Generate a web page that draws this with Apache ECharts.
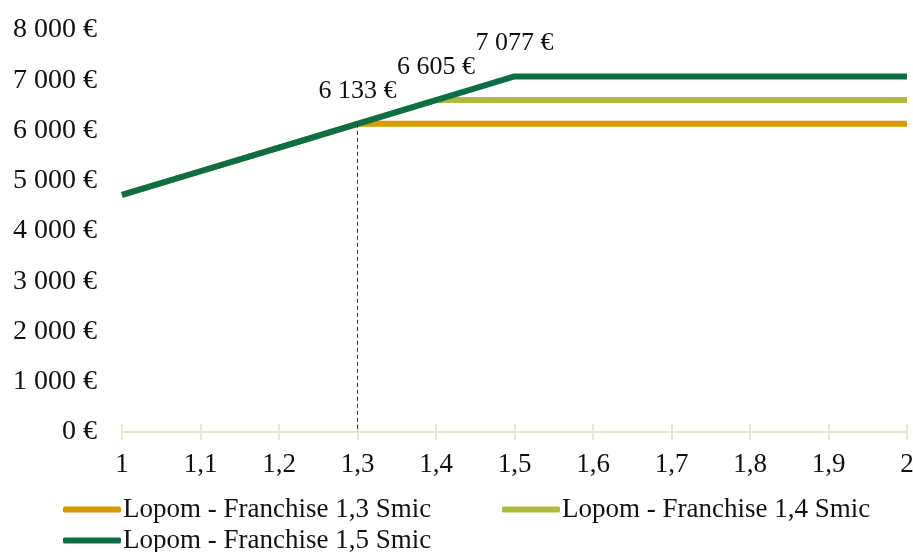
<!DOCTYPE html>
<html>
<head>
<meta charset="utf-8">
<script src="https://cdn.jsdelivr.net/npm/echarts@6/dist/echarts.min.js"></script>
<style>
  html, body { margin: 0; padding: 0; background: #fff; }
  #chart { width: 913px; height: 552px; }
</style>
</head>
<body>
<div id="chart"></div>
<script>
// données
var categories = ['1', '1,1', '1,2', '1,3', '1,4', '1,5', '1,6', '1,7', '1,8', '1,9', '2'];
var franchise13 = [4717, 5189, 5661, 6133, 6133, 6133, 6133, 6133, 6133, 6133, 6133];
var franchise14 = [4717, 5189, 5661, 6133, 6605, 6605, 6605, 6605, 6605, 6605, 6605];
var franchise15 = [4717, 5189, 5661, 6133, 6605, 7077, 7077, 7077, 7077, 7077, 7077];
var seriesNames = ['Lopom - Franchise 1,3 Smic', 'Lopom - Franchise 1,4 Smic', 'Lopom - Franchise 1,5 Smic'];
var labelIndex = [3, 4, 5]; // point où le plafond commence

var font = 'Liberation Serif';
var colors = ['#D89B00', '#AFBB3A', '#0D6E46'];

function euro(v) {
    return String(Math.round(v)).replace(/\B(?=(\d{3})+(?!\d))/g, ' ') + ' €';
}

var allData = [franchise13, franchise14, franchise15];
var series = [];
for (var i = 0; i < 3; i++) {
    var idx = labelIndex[i];
    series.push({
        name: seriesNames[i],
        type: 'line',
        data: allData[i],
        symbol: 'none',
        lineStyle: { width: 6, color: colors[i] },
        itemStyle: { color: colors[i] },
        z: 2 + i,
        markPoint: {
            silent: true,
            symbol: 'circle', symbolSize: 0,
            label: {
                show: true, position: 'top', distance: 20,
                formatter: function (p) { return euro(p.value); },
                fontFamily: font, fontSize: 26, color: '#111'
            },
            data: [{ coord: [categories[idx], allData[i][idx]], value: allData[i][idx] }]
        }
    });
}
// trait pointillé vertical à 1,3
series[0].markLine = {
    silent: true,
    symbol: ['none', 'none'],
    label: { show: false },
    lineStyle: { type: [4, 3], color: '#333', width: 1 },
    data: [[{ coord: ['1,3', franchise13[3]] }, { coord: ['1,3', 0] }]]
};

function legendAt(name, left, top) {
    return {
        data: [name], left: left, top: top, orient: 'horizontal',
        icon: 'roundRect', itemWidth: 58, itemHeight: 6, itemGap: 0,
        textStyle: { fontFamily: font, fontSize: 27, color: '#111', padding: [0, 0, 0, -3] },
        selectedMode: false
    };
}

var myChart = echarts.init(document.getElementById('chart'));
var option = {
    animation: false,
    grid: { left: 122, right: 6, top: 30, bottom: 120, containLabel: false, outerBoundsMode: 'none' },
    legend: [
        legendAt(seriesNames[0], 58, 491),
        legendAt(seriesNames[1], 497, 491),
        legendAt(seriesNames[2], 58, 522)
    ],
    xAxis: [{
        type: 'category', data: categories, boundaryGap: false,
        axisLine: { lineStyle: { color: '#E5E5D0', width: 2 } },
        axisTick: { show: true, length: 8, lineStyle: { color: '#E5E5D0', width: 2 } },
        axisLabel: { fontFamily: font, fontSize: 27, color: '#111', margin: 19, interval: 0 }
    }, {
        type: 'category', data: categories, boundaryGap: false, position: 'bottom',
        axisLine: { show: false },
        axisTick: { show: true, inside: true, length: 8, lineStyle: { color: '#E5E5D0', width: 2 } },
        axisLabel: { show: false }
    }],
    yAxis: {
        type: 'value', min: 0, max: 8000, interval: 1000,
        axisLine: { show: false }, axisTick: { show: false },
        splitLine: { show: false },
        axisLabel: { fontFamily: font, fontSize: 28, color: '#111', margin: 25, formatter: euro }
    },
    series: series
};
myChart.setOption(option);
</script>
</body>
</html>
